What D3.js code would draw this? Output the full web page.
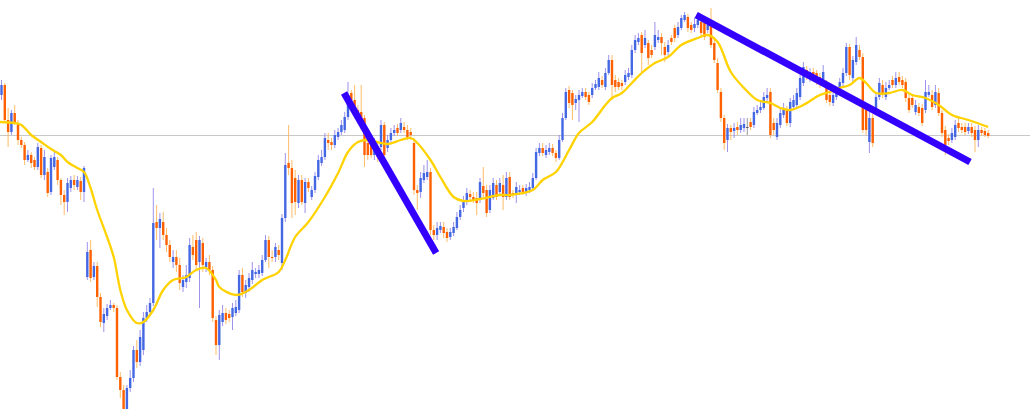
<!DOCTYPE html>
<html>
<head>
<meta charset="utf-8">
<script src="https://cdn.jsdelivr.net/npm/d3@7"></script>
<style>
html,body{margin:0;padding:0;background:#fff;overflow:hidden;}
svg{display:block;}
</style>
</head>
<body>
<svg id="chart" width="1030" height="409"></svg>
<script>
// ---- data (price units) ----
const open = [
905,915,880,868,887,876,860,855,840,845,
840,833,852,825,828,808,833,840,820,805,
798,812,820,813,819,808,723,750,723,734,
703,677,684,692,695,692,623,610,590,612,
622,650,638,650,682,688,697,778,772,778,
765,755,738,743,735,713,718,722,753,760,
738,757,733,738,730,680,655,678,687,686,
683,687,690,725,707,713,720,726,726,727,
740,760,743,743,750,737,782,837,832,822,
797,820,797,818,803,810,823,837,843,860,
858,855,863,868,870,883,907,900,890,888,
882,857,860,845,853,853,875,852,860,867,
872,870,873,870,868,857,810,808,820,823,
828,770,765,770,773,768,763,767,772,783,
792,798,806,803,802,800,814,810,790,802,
815,808,815,803,823,807,807,808,812,807,
810,812,822,847,852,845,848,852,847,842,
860,882,910,907,897,900,904,908,905,905,
912,913,920,913,927,940,920,918,917,918,
923,925,950,958,965,955,957,950,953,960,
963,953,948,962,972,965,972,980,983,975,
972,975,978,977,970,975,957,937,908,882,
860,872,869,873,870,872,873,878,875,887,
890,892,902,908,877,863,875,885,890,877,
893,895,903,917,930,923,928,927,923,920,
917,905,897,903,908,917,927,953,922,938,
950,943,892,858,882,890,903,915,903,912,
920,915,923,920,918,902,902,888,893,892,
890,905,905,895,907,887,870,862,860,863,
877,873,873,869,873,870,860,870,869,867];
const high = [
920,917,892,890,895,880,863,858,850,848,
843,857,855,850,832,845,850,843,822,810,
822,824,825,824,823,834,758,760,738,738,
707,692,696,700,697,695,628,615,615,630,
654,660,670,688,695,702,812,795,787,788,
772,760,750,750,742,725,735,762,765,768,
764,762,742,745,734,684,690,695,692,690,
697,700,730,732,720,727,738,732,735,745,
765,764,750,757,755,786,847,875,840,830,
825,825,822,822,814,828,845,850,867,867,
862,870,872,880,888,918,910,915,895,915,
885,862,865,862,857,880,878,865,872,875,
876,882,878,875,872,862,815,828,835,840,
832,775,778,778,778,772,772,778,788,795,
804,812,810,808,808,822,833,815,815,822,
820,822,825,828,828,810,818,815,815,816,
818,827,852,857,857,855,857,856,850,865,
887,912,914,910,905,910,912,912,908,917,
920,928,924,932,945,945,925,922,920,930,
932,955,965,967,968,970,960,955,978,970,
967,958,960,965,975,978,985,988,986,978,
982,985,982,980,980,992,962,942,912,885,
876,875,877,878,882,882,882,882,893,895,
900,908,912,912,882,882,892,897,894,902,
905,912,927,938,934,932,932,930,927,935,
920,908,910,912,922,932,957,956,944,963,
955,947,897,888,886,908,922,920,918,920,
924,928,928,924,922,906,906,900,897,896,
920,915,910,915,912,890,874,866,872,880,
882,877,877,877,877,874,875,873,872,870];
const low = [
900,877,853,865,875,855,852,835,838,832,
830,830,822,820,803,805,830,815,795,785,
788,808,810,810,800,798,720,718,720,693,
673,668,680,690,688,620,602,588,585,608,
618,632,634,645,678,684,694,760,752,760,
748,738,732,728,710,708,712,718,740,730,
692,728,728,725,678,645,640,674,676,678,
670,684,687,703,702,708,716,722,722,724,
738,732,738,738,740,730,778,825,782,785,
792,795,787,808,800,807,820,834,840,850,
850,852,860,865,867,880,895,882,878,870,
833,840,842,840,838,850,840,848,857,864,
864,867,867,860,860,805,790,802,817,820,
765,760,760,767,762,758,760,764,770,780,
788,795,800,797,785,797,803,783,787,800,
800,805,790,800,800,802,797,805,805,804,
807,810,820,844,844,842,845,844,838,840,
858,880,892,880,890,878,902,900,895,902,
910,910,912,910,925,900,908,910,910,915,
920,922,947,955,928,952,935,942,950,957,
945,938,942,955,958,962,970,978,968,967,
968,972,964,960,967,952,937,907,878,850,
848,860,862,865,867,868,865,870,872,885,
887,890,898,862,865,860,872,882,874,873,
890,892,900,914,920,918,918,915,912,917,
897,894,894,900,905,914,924,920,918,935,
940,867,865,847,853,887,900,902,900,910,
912,912,915,912,898,887,892,885,884,874,
887,903,890,892,884,863,845,855,857,860,
868,867,865,866,863,848,853,864,863,862];
const close = [
915,880,868,887,878,860,855,840,845,837,
833,853,825,843,807,842,843,820,805,798,
817,820,815,820,808,832,748,722,734,703,
678,686,692,695,692,623,610,591,612,622,
650,638,663,682,688,697,777,772,781,765,
755,743,743,735,717,720,725,755,745,735,
760,735,738,730,682,655,685,687,680,682,
692,693,725,708,715,722,730,728,730,740,
760,743,742,753,745,782,835,832,797,798,
820,798,818,812,810,824,840,843,862,857,
855,865,868,875,883,905,900,887,883,877,
845,845,845,858,843,875,845,860,867,870,
867,877,870,863,865,810,807,822,827,828,
770,765,772,774,767,762,768,773,783,790,
798,807,803,800,797,818,807,787,810,817,
803,817,803,822,803,805,813,810,808,812,
813,822,848,852,847,850,852,847,842,860,
882,908,897,895,901,905,908,903,898,912,
916,922,915,927,940,915,913,913,914,925,
927,950,960,962,947,962,942,945,965,963,
957,945,955,958,962,973,982,985,972,970,
976,980,967,963,975,955,940,910,882,857,
872,868,872,870,875,876,873,873,888,890,
893,903,905,865,870,877,887,892,877,898,
900,907,922,933,925,928,922,918,917,928,
900,898,905,908,918,927,953,925,940,955,
943,870,870,882,857,903,917,905,912,915,
915,922,918,915,902,890,895,895,887,877,
908,908,893,908,887,867,855,859,867,875,
872,870,868,873,867,860,870,867,865,864];

// moving average (bar index -> value)
const maIndex = [-0.5,4,6,9,12,15,18,20,23,25,27,29,32,34,36,38,41,43,46,49,52,55,56,59,62,65,66,71,75,79,84,86,89,93,98,102,105,108,111,117,121,124,126,130,133,137,140,145,151,154,161,164,168,172,175,179,183,185,188,191,194,198,202,206,211,214,217,221,225,229,233,236,239,243,248,251,254,257,260,262,265,269,273,276,280,284,288,293,299];
const maValue = [878,877,875,865,858,851,845,838,832,828,812,790,763,743,710,690,677,678,690,710,720,722,723,730,732,720,713,705,710,720,728,740,763,778,803,827,848,858,860,856,860,862,857,840,823,803,799,801,805,805,810,820,828,850,867,878,895,902,907,917,927,937,943,955,962,965,958,928,912,900,897,892,890,895,905,908,912,915,922,917,907,907,910,905,902,895,885,880,873];

const refLevel = 865;
// trend lines: [startIndex, startPrice] -> [endIndex, endPrice]
const trendStart = [[103.8, 907], [210.5, 985]];
const trendEnd = [[131.7, 747], [293.5, 838]];

// ---- drawing ----
const W = 1030, H = 409;
const svg = d3.select('#chart');
svg.append('rect').attr('width', W).attr('height', H).attr('fill', '#ffffff');

const x = d3.scaleLinear().domain([0, open.length - 1]).range([1.5, 988.2]);
const y = d3.scaleLinear().domain([591, 1000]).range([H, 0]);

const bars = d3.range(open.length).map(i => ({i, o: open[i], h: high[i], l: low[i], c: close[i]}));

// reference horizontal line
svg.append('line')
  .attr('x1', 0).attr('x2', W)
  .attr('y1', Math.round(y(refLevel)) + 0.5).attr('y2', Math.round(y(refLevel)) + 0.5)
  .attr('stroke', '#c8c8c8').attr('stroke-width', 1);

const upBody = '#4468e4', downBody = '#ff6000', dojiCol = '#555555';
const upWick = '#8c80ea', downWick = '#ffb24e';

const g = svg.append('g');
g.selectAll('rect.wick').data(bars).enter().append('rect')
  .attr('class', 'wick')
  .attr('x', d => x(d.i) - 0.5)
  .attr('width', 1)
  .attr('y', d => y(d.h))
  .attr('height', d => Math.max(1, y(d.l) - y(d.h)))
  .attr('fill', d => d.c > d.o ? upWick : (d.c < d.o ? downWick : '#888'))
  .attr('opacity', 0.85);
g.selectAll('rect.body').data(bars).enter().append('rect')
  .attr('class', 'body')
  .attr('x', d => x(d.i) - 1.2)
  .attr('width', 2.4)
  .attr('y', d => y(Math.max(d.o, d.c)))
  .attr('height', d => Math.max(1, Math.abs(y(d.o) - y(d.c))))
  .attr('fill', d => d.c > d.o ? upBody : (d.c < d.o ? downBody : dojiCol));

// moving average
const maPts = maIndex.map((k, j) => [k, maValue[j]]);
svg.append('path')
  .datum(maPts)
  .attr('fill', 'none')
  .attr('stroke', '#ffd200')
  .attr('stroke-width', 2.3)
  .attr('stroke-linejoin', 'round')
  .attr('d', d3.line().x(d => x(d[0])).y(d => y(d[1])).curve(d3.curveCatmullRom.alpha(0.5)));

// trend lines
svg.selectAll('line.trend').data(d3.range(trendStart.length)).enter().append('line')
  .attr('class', 'trend')
  .attr('x1', k => x(trendStart[k][0])).attr('y1', k => y(trendStart[k][1]))
  .attr('x2', k => x(trendEnd[k][0])).attr('y2', k => y(trendEnd[k][1]))
  .attr('stroke', '#3300ff').attr('stroke-width', 7).attr('stroke-linecap', 'butt');
</script>
</body>
</html>
